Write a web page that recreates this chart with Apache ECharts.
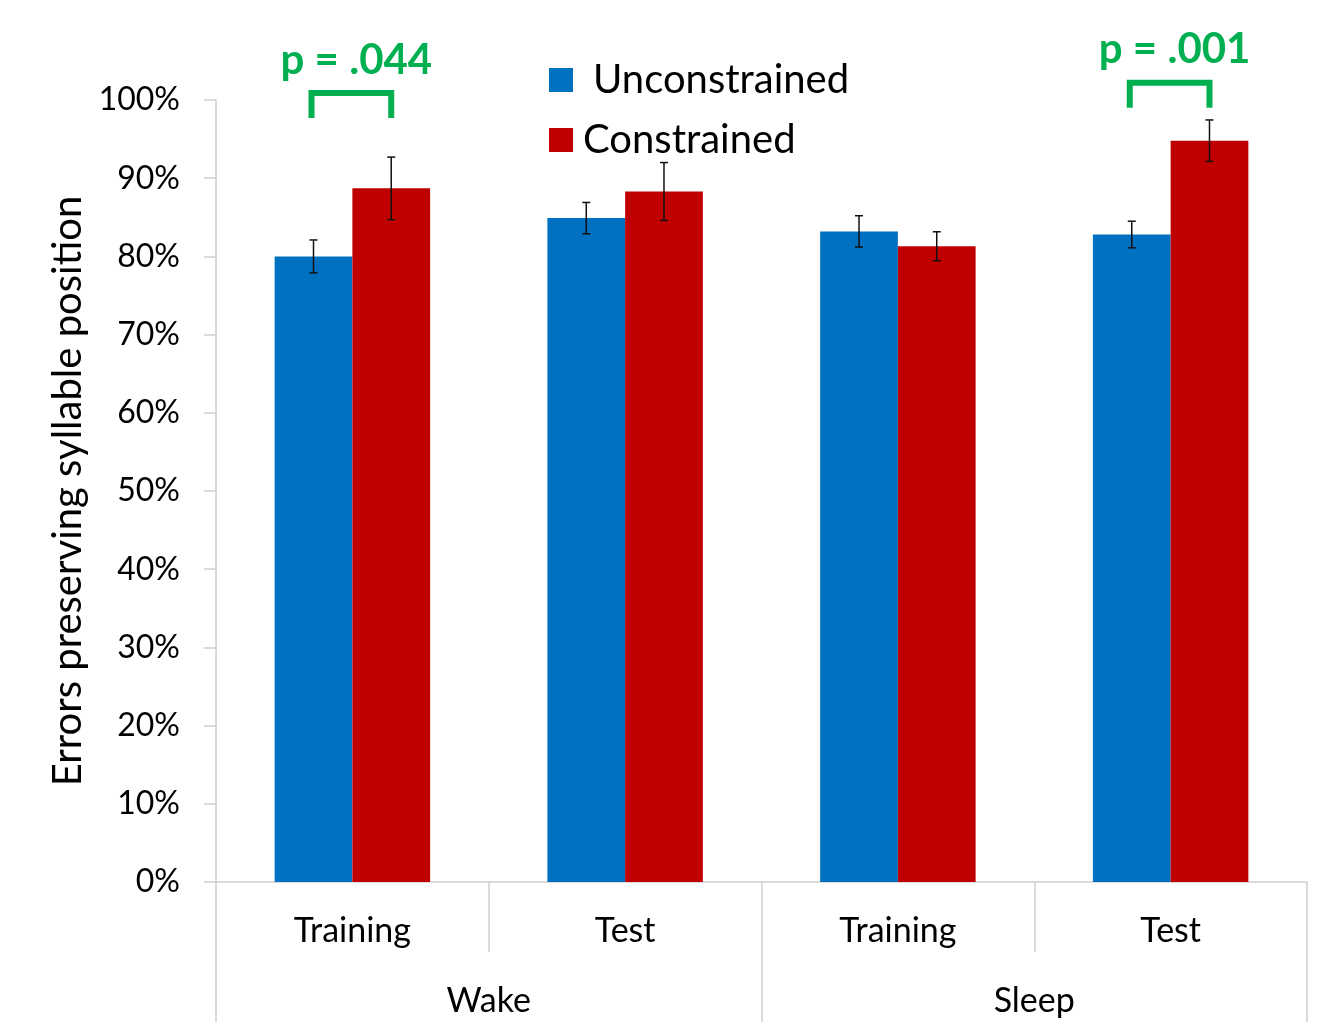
<!DOCTYPE html>
<html>
<head>
<meta charset="utf-8">
<title>Errors preserving syllable position</title>
<script src="https://cdn.jsdelivr.net/npm/echarts@6/dist/echarts.min.js"></script>
<style>
  html, body { margin: 0; padding: 0; background: #fff; }
  #chart { width: 1330px; height: 1027px; }
</style>
</head>
<body>
<div id="chart"></div>
<script>
// Conditions (outer level) and phases (inner level)
const groups = ['Wake', 'Sleep'];
const phases = ['Training', 'Test', 'Training', 'Test'];

// Percentage of errors preserving syllable position, with error bar half-widths
const unconstrained = [80.0, 84.9, 83.2, 82.8];
const unconstrainedErr = [2.1, 2.0, 2.0, 1.7];
const constrained = [88.7, 88.3, 81.3, 94.8];
const constrainedErr = [4.0, 3.7, 1.85, 2.65];

// Significance brackets: phase index, bracket foot, bracket top, label
const sigIndex = [0, 3];
const sigFoot = [97.7, 99.0];
const sigTop = [100.9, 102.2];
const sigText = ['p = .044', 'p = .001'];

// Y-axis ticks
const yMin = 0, yMax = 100, yStep = 10;

const FONT = 'Lato, "Open Sans", sans-serif';
const BLUE = '#0070c0';
const RED = '#c00000';
const GREEN = '#00b050';
const AXIS = '#cfcfcf';

// Bars occupy 57% of each category band; each bar is half of that.
const BAR_SHARE = 0.57;

function errorBarRenderer(side) {
  return function (params, api) {
    const idx = api.value(0);
    const lo = api.coord([idx, api.value(1)]);
    const hi = api.coord([idx, api.value(2)]);
    const band = api.size([1, 0])[0];
    const x = lo[0] + side * band * BAR_SHARE / 4;
    const cap = 4;
    const style = { stroke: '#111', lineWidth: 1.5 };
    return {
      type: 'group',
      children: [
        { type: 'line', shape: { x1: x, y1: lo[1], x2: x, y2: hi[1] }, style },
        { type: 'line', shape: { x1: x - cap, y1: lo[1], x2: x + cap, y2: lo[1] }, style },
        { type: 'line', shape: { x1: x - cap, y1: hi[1], x2: x + cap, y2: hi[1] }, style }
      ]
    };
  };
}

function errorData(values, errs) {
  return values.map((v, i) => [i, v - errs[i], v + errs[i]]);
}

const legendText = { fontFamily: FONT, fontSize: 40, color: '#000', lineHeight: 44 };

const chart = echarts.init(document.getElementById('chart'), null, { renderer: 'canvas' });

chart.setOption({
  animation: false,
  textStyle: { fontFamily: FONT },
  grid: { left: 216, right: 23, top: 100, bottom: 145, containLabel: false },
  legend: {
    orient: 'vertical',
    left: 544,
    top: 53,
    itemWidth: 24,
    itemHeight: 24,
    itemGap: 16,
    icon: 'rect',
    data: ['Unconstrained', 'Constrained'],
    formatter: n => n === 'Unconstrained' ? '{u|' + n + '}' : '{c|' + n + '}',
    textStyle: Object.assign({}, legendText, {
      rich: {
        u: Object.assign({}, legendText, { padding: [0, 0, 0, 15] }),
        c: Object.assign({}, legendText, { padding: [0, 0, 0, 5] })
      }
    })
  },
  xAxis: [
    {
      type: 'category',
      data: phases,
      position: 'bottom',
      axisLine: { show: true, lineStyle: { color: AXIS, width: 1.5 } },
      axisTick: { show: true, interval: 0, length: 70, lineStyle: { color: AXIS, width: 1.5 } },
      axisLabel: { interval: 0, margin: 32, fontSize: 34, color: '#000', fontFamily: FONT }
    },
    {
      type: 'category',
      data: groups,
      position: 'bottom',
      offset: 70,
      axisLine: { show: false },
      axisTick: { show: true, interval: 0, length: 70, lineStyle: { color: AXIS, width: 1.5 } },
      axisLabel: { interval: 0, margin: 32, fontSize: 34, color: '#000', fontFamily: FONT }
    }
  ],
  yAxis: {
    type: 'value',
    min: yMin,
    max: yMax,
    interval: yStep,
    name: 'Errors preserving syllable position',
    nameLocation: 'middle',
    nameGap: 110,
    nameTextStyle: { fontSize: 40, color: '#000', fontFamily: FONT },
    axisLine: { show: true, lineStyle: { color: AXIS, width: 1.5 } },
    axisTick: { show: true, length: 12, lineStyle: { color: AXIS, width: 1.5 } },
    splitLine: { show: false },
    axisLabel: { formatter: '{value}%', margin: 36, fontSize: 32, color: '#000', fontFamily: FONT }
  },
  series: [
    {
      name: 'Unconstrained',
      type: 'bar',
      xAxisIndex: 0,
      data: unconstrained,
      barGap: '0%',
      barCategoryGap: '43%',
      itemStyle: { color: BLUE }
    },
    {
      name: 'Constrained',
      type: 'bar',
      xAxisIndex: 0,
      data: constrained,
      barGap: '0%',
      barCategoryGap: '43%',
      itemStyle: { color: RED }
    },
    {
      name: 'Unconstrained error',
      type: 'custom',
      xAxisIndex: 0,
      data: errorData(unconstrained, unconstrainedErr),
      renderItem: errorBarRenderer(-1),
      encode: { x: 0, y: [1, 2] },
      z: 5,
      silent: true
    },
    {
      name: 'Constrained error',
      type: 'custom',
      xAxisIndex: 0,
      data: errorData(constrained, constrainedErr),
      renderItem: errorBarRenderer(1),
      encode: { x: 0, y: [1, 2] },
      z: 5,
      silent: true
    },
    {
      name: 'Significance',
      type: 'custom',
      xAxisIndex: 0,
      clip: false,
      data: sigIndex.map((c, i) => [c, sigFoot[i], sigTop[i]]),
      encode: { x: 0, y: [1, 2] },
      renderItem: function (params, api) {
        const idx = api.value(0);
        const foot = api.coord([idx, api.value(1)]);
        const top = api.coord([idx, api.value(2)]);
        const band = api.size([1, 0])[0];
        const half = band * BAR_SHARE / 4;
        const cx = foot[0];
        const xl = cx - half - 2, xr = cx + half;
        const lineStyle = { stroke: GREEN, lineWidth: 6, fill: null, lineJoin: 'miter', lineCap: 'butt' };
        return {
          type: 'group',
          children: [
            {
              type: 'polyline',
              shape: { points: [[xl, foot[1]], [xl, top[1]], [xr, top[1]], [xr, foot[1]]] },
              style: lineStyle
            },
            {
              type: 'text',
              style: {
                text: sigText[params.dataIndex],
                x: cx + 4,
                y: top[1] - 33,
                align: 'center',
                verticalAlign: 'middle',
                fill: GREEN,
                font: 'bold 42px ' + FONT
              }
            }
          ]
        };
      },
      z: 6,
      silent: true
    }
  ]
});
</script>
</body>
</html>
